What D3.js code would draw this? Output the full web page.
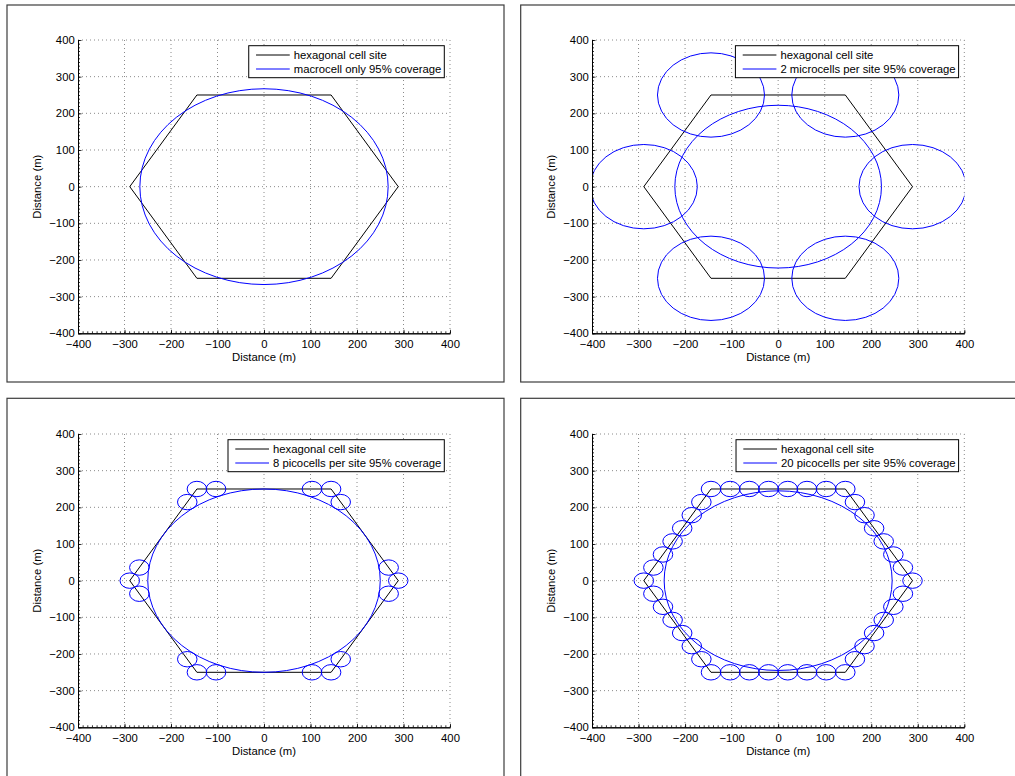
<!DOCTYPE html>
<html>
<head>
<meta charset="utf-8">
<script src="https://cdn.jsdelivr.net/npm/d3@7"></script>
<style>
  body { margin: 0; background: #fff; }
  svg { display: block; }
  text { font-family: "Liberation Sans", Arial, Helvetica, sans-serif; font-size: 11.3px; fill: #000; }
</style>
</head>
<body>
<svg id="fig" width="1015" height="776"></svg>
<script>
// Axis ticks (metres), shared by all four panels
const tickValues = [-400, -300, -200, -100, 0, 100, 200, 300, 400];
const axisLabel = "Distance (m)";

// Hexagonal cell site outline (vertex coordinates, m)
const hexagonSite = [
  [288.7, 0], [144.3, 250], [-144.3, 250],
  [-288.7, 0], [-144.3, -250], [144.3, -250]
];
const hexagonLabel = "hexagonal cell site";

// Coverage circles per scenario: [centre x, centre y, radius] in metres
const coverageLabels = [
  "macrocell only 95% coverage",
  "2 microcells per site 95% coverage",
  "8 picocells per site 95% coverage",
  "20 picocells per site 95% coverage"
];

const macroCoverage = [[0, 0, 267]];

const microCoverage = [
  [0, 0, 222],
  [288.7, 0, 115], [144.3, 250, 115], [-144.3, 250, 115],
  [-288.7, 0, 115], [-144.3, -250, 115], [144.3, -250, 115]
];

const pico8Coverage = [
  [0, 0, 250],
  [288.7, 0, 21], [268.1, 35.7, 21], [165.0, 214.3, 21],
  [144.3, 250, 21], [103.1, 250, 21], [-103.1, 250, 21],
  [-144.3, 250, 21], [-165.0, 214.3, 21], [-268.1, 35.7, 21],
  [-288.7, 0, 21], [-268.1, -35.7, 21], [-165.0, -214.3, 21],
  [-144.3, -250, 21], [-103.1, -250, 21], [103.1, -250, 21],
  [144.3, -250, 21], [165.0, -214.3, 21], [268.1, -35.7, 21]
];

const pico20Coverage = [
  [0, 0, 245],
  [288.7, 0, 21], [268.1, 35.7, 21], [247.5, 71.4, 21], [226.8, 107.1, 21],
  [206.2, 142.9, 21], [185.6, 178.6, 21], [165.0, 214.3, 21],
  [144.3, 250, 21], [103.1, 250, 21], [61.9, 250, 21], [20.6, 250, 21],
  [-20.6, 250, 21], [-61.9, 250, 21], [-103.1, 250, 21],
  [-144.3, 250, 21], [-165.0, 214.3, 21], [-185.6, 178.6, 21], [-206.2, 142.9, 21],
  [-226.8, 107.1, 21], [-247.5, 71.4, 21], [-268.1, 35.7, 21],
  [-288.7, 0, 21], [-268.1, -35.7, 21], [-247.5, -71.4, 21], [-226.8, -107.1, 21],
  [-206.2, -142.9, 21], [-185.6, -178.6, 21], [-165.0, -214.3, 21],
  [-144.3, -250, 21], [-103.1, -250, 21], [-61.9, -250, 21], [-20.6, -250, 21],
  [20.6, -250, 21], [61.9, -250, 21], [103.1, -250, 21],
  [144.3, -250, 21], [165.0, -214.3, 21], [185.6, -178.6, 21], [206.2, -142.9, 21],
  [226.8, -107.1, 21], [247.5, -71.4, 21], [268.1, -35.7, 21]
];

const coverageSets = [macroCoverage, microCoverage, pico8Coverage, pico20Coverage];

// Page layout for the 2x2 grid of figures
const layouts = [
  { frame: [7, 5, 504, 382],          plot: [78, 450, 40, 333.3] },
  { frame: [520.7, 5, 1022, 382],     plot: [592, 964.3, 40, 333.3] },
  { frame: [7, 398.3, 504, 782],      plot: [78, 450, 434, 727.3] },
  { frame: [520.7, 398.3, 1022, 782], plot: [592, 964.3, 434, 727.3] }
];

const svg = d3.select("#fig");
const domain = [tickValues[0], tickValues[tickValues.length - 1]];
const minorTicks = d3.range(domain[0], domain[1] + 1, 10);

layouts.forEach((lay, i) => {
  const [fx0, fy0, fx1, fy1] = lay.frame;
  const [px0, px1, py0, py1] = lay.plot;

  // figure frame
  svg.append("rect")
    .attr("x", fx0).attr("y", fy0)
    .attr("width", fx1 - fx0).attr("height", fy1 - fy0)
    .attr("fill", "none").attr("stroke", "#3c3c3c").attr("stroke-width", 1.2);

  const x = d3.scaleLinear().domain(domain).range([px0, px1]);
  const y = d3.scaleLinear().domain(domain).range([py1, py0]);

  const g = svg.append("g");

  // dotted grid
  g.append("g").selectAll("line").data(tickValues.slice(1)).join("line")
    .attr("x1", d => x(d)).attr("x2", d => x(d))
    .attr("y1", py0).attr("y2", py1)
    .attr("stroke", "#8a8a8a").attr("stroke-width", 1)
    .attr("stroke-dasharray", "1,3");
  g.append("g").selectAll("line").data(tickValues.slice(1)).join("line")
    .attr("y1", d => y(d)).attr("y2", d => y(d))
    .attr("x1", px0).attr("x2", px1)
    .attr("stroke", "#8a8a8a").attr("stroke-width", 1)
    .attr("stroke-dasharray", "1,3");

  // clipped data area
  const clipId = "clip" + i;
  svg.append("clipPath").attr("id", clipId)
    .append("rect").attr("x", px0).attr("y", py0)
    .attr("width", px1 - px0).attr("height", py1 - py0);
  const data = g.append("g").attr("clip-path", `url(#${clipId})`);

  const hexLine = d3.line().x(d => x(d[0])).y(d => y(d[1]));
  data.append("path")
    .attr("d", hexLine(hexagonSite.concat([hexagonSite[0]])))
    .attr("fill", "none").attr("stroke", "#000").attr("stroke-width", 1);

  data.append("g").selectAll("ellipse").data(coverageSets[i]).join("ellipse")
    .attr("cx", d => x(d[0])).attr("cy", d => y(d[1]))
    .attr("rx", d => x(d[2]) - x(0)).attr("ry", d => y(0) - y(d[2]))
    .attr("fill", "none").attr("stroke", "#0000ff").attr("stroke-width", 1);

  // axes (ticks point inward)
  const xAxis = d3.axisBottom(x).tickValues(tickValues).tickSizeInner(-3.5).tickSizeOuter(0).tickPadding(7);
  const yAxis = d3.axisLeft(y).tickValues(tickValues).tickSizeInner(-3.5).tickSizeOuter(0).tickPadding(3.3);
  const xMinor = d3.axisBottom(x).tickValues(minorTicks).tickSizeInner(-2).tickSizeOuter(0).tickFormat("");
  const yMinor = d3.axisLeft(y).tickValues(minorTicks).tickSizeInner(-2).tickSizeOuter(0).tickFormat("");

  [[xMinor, `translate(0,${py1})`], [yMinor, `translate(${px0},0)`],
   [xAxis, `translate(0,${py1})`], [yAxis, `translate(${px0},0)`]].forEach(([ax, tr]) => {
    const a = g.append("g").attr("transform", tr).call(ax);
    a.selectAll("path.domain").attr("stroke", "#000").attr("stroke-width", 1);
    a.selectAll("line").attr("stroke", "#000").attr("stroke-width", 0.8);
    a.selectAll("text").attr("font-family", null).attr("font-size", null).attr("fill", "#000");
  });

  // axis labels
  g.append("text")
    .attr("x", (px0 + px1) / 2).attr("y", py1 + 27.5)
    .attr("text-anchor", "middle").text(axisLabel);
  g.append("text")
    .attr("transform", `translate(${px0 - 37},${(py0 + py1) / 2}) rotate(-90)`)
    .attr("text-anchor", "middle").text(axisLabel);

  // legend
  const labels = [hexagonLabel, coverageLabels[i]];
  const colors = ["#000", "#0000ff"];
  const leg = g.append("g");
  const texts = leg.selectAll("text").data(labels).join("text")
    .attr("x", 45).attr("y", (d, k) => 13.3 + k * 14)
    .text(d => d);
  const maxW = d3.max(texts.nodes(), n => n.getComputedTextLength());
  const boxW = 45 + maxW + 3;
  leg.insert("rect", "text")
    .attr("x", 0).attr("y", 0).attr("width", boxW).attr("height", 32)
    .attr("fill", "#fff").attr("stroke", "#000").attr("stroke-width", 1);
  leg.selectAll("line").data(labels).join("line")
    .attr("x1", 7.3).attr("x2", 41)
    .attr("y1", (d, k) => 9.3 + k * 14).attr("y2", (d, k) => 9.3 + k * 14)
    .attr("stroke", (d, k) => colors[k]).attr("stroke-width", 1);
  leg.attr("transform", `translate(${px1 - 5.7 - boxW},${py0 + 5.7})`);
});
</script>
</body>
</html>
